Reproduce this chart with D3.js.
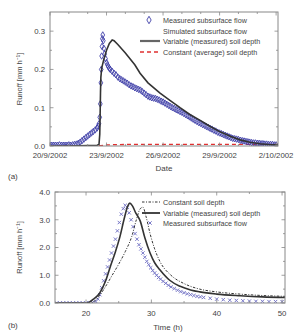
<!DOCTYPE html>
<html><head><meta charset="utf-8">
<script src="https://cdn.jsdelivr.net/npm/d3@7"></script>
<style>
body{margin:0;background:#fff;}
svg{display:block;font-family:"Liberation Sans",Arial,sans-serif;}
</style></head>
<body>
<svg id="c" width="295" height="333"></svg>
<script>
// ---------- Panel (a) data : days since 20/9/2002 ----------
const aTickValues = [0, 3, 6, 9, 12];
const aTickLabels = ["20/9/2002", "23/9/2002", "26/9/2002", "29/9/2002", "2/10/2002"];
const aYTicks = [0.0, 0.1, 0.2, 0.3];

const measDay = [0.0,0.1,0.2,0.3,0.4,0.5,0.6,0.7,0.8,0.9,1.0,1.1,1.2,1.3,1.4,1.5,1.6,1.7,1.8,1.9,2.0,2.1,2.2,2.3,2.4,2.5,2.55,2.6,2.64,2.67,2.70,2.72,2.74,2.76,2.78,2.80,2.83,2.86,2.9,2.95,3.0,3.05,3.1,3.15,3.2,3.3,3.4,3.5,3.6,3.7,3.8,3.9,4.0,4.1,4.2,4.3,4.4,4.5,4.6,4.7,4.8,4.9,5.0,5.1,5.2,5.3,5.4,5.5,5.6,5.7,5.8,5.9,6.0,6.1,6.2,6.3,6.4,6.5,6.6,6.7,6.8,6.9,7.0,7.1,7.2,7.3,7.4,7.5,7.6,7.7,7.8,7.9,8.0,8.1,8.2,8.3,8.4,8.5,8.6,8.7,8.8,8.9,9.0,9.1,9.2,9.3,9.4,9.5,9.6,9.7,9.8,9.9,10.0,10.1,10.2,10.3,10.4,10.5,10.6,10.7,10.8,10.9,11.0,11.1,11.2,11.3,11.4,11.5,11.6,11.7,11.8,11.9,12.0];
const measQ = [.002,.002,.002,.002,.002,.003,.002,.002,.002,.002,.003,.002,.003,.004,.005,.007,.010,.014,.018,.022,.026,.030,.034,.038,.042,.047,.052,.058,.075,.11,.165,.20,.235,.26,.28,.29,.275,.255,.24,.228,.218,.212,.207,.203,.20,.195,.19,.186,.18,.176,.173,.17,.167,.164,.16,.157,.155,.152,.15,.148,.146,.142,.138,.134,.13,.128,.126,.125,.124,.122,.12,.117,.115,.112,.109,.106,.103,.10,.098,.095,.093,.09,.088,.085,.082,.079,.076,.073,.07,.067,.064,.061,.059,.056,.054,.051,.049,.046,.044,.041,.039,.036,.034,.032,.030,.028,.026,.024,.022,.020,.019,.018,.017,.015,.014,.013,.012,.011,.010,.009,.008,.008,.007,.007,.006,.006,.005,.005,.004,.004,.004,.003,.003];

const varDay = [0.0,1.0,2.0,2.5,2.6,2.64,2.66,2.68,2.7,2.75,2.85,3.0,3.15,3.3,3.4,3.6,4.0,4.5,4.78,5.2,5.84,6.4,6.9,7.4,7.97,8.5,9.03,9.6,10.09,10.6,11.15,11.6,12.1];
const varQ   = [0.0,0.0,0.001,0.002,0.004,0.03,0.08,0.14,0.18,0.205,0.225,0.25,0.268,0.277,0.275,0.265,0.243,0.212,0.19,0.165,0.138,0.118,0.10,0.083,0.067,0.051,0.037,0.025,0.016,0.010,0.006,0.004,0.003];

const constDay = [0.0,2.7,3.0,4.0,6.0,9.0,12.1];
const constQ   = [0.001,0.001,0.003,0.004,0.004,0.004,0.004];

const aLegend = ["Measured subsurface flow","Simulated subsurface flow","Variable (measured) soil depth","Constant (average) soil depth"];

// ---------- Panel (b) data : hours ----------
const bXTicks = [20, 30, 40, 50];
const bYTicks = [0, 1, 2, 3, 4];
const bYTickLabels = ["0.0","1.0","2.0","3.0","4.0"];

const bMeasT = [15.5,16,16.5,17,17.5,18,18.5,19,19.5,20,20.5,21,21.5,21.8,22.1,22.4,22.7,23.0,23.3,23.6,23.9,24.2,24.5,24.8,25.1,25.4,25.7,26.0,26.3,26.6,26.9,27.2,27.5,27.8,28.1,28.4,28.7,29.0,29.3,29.6,29.9,30.2,30.5,30.8,31.1,31.4,31.8,32.2,32.6,33,33.5,34,34.5,35,35.5,36,36.5,37,37.5,38,39,40,41,42,43,44,45,46,47,48,49,50];
const bMeasQ = [0,0,0,0,0,0,0,0,0,0,0.01,0.02,0.05,0.15,0.3,0.55,0.8,1.05,1.3,1.55,1.8,2.05,2.3,2.6,2.9,3.2,3.4,3.52,3.45,3.25,3.0,2.75,2.5,2.3,2.1,1.95,1.8,1.65,1.5,1.38,1.27,1.17,1.08,1.0,0.92,0.86,0.78,0.71,0.64,0.58,0.52,0.46,0.41,0.37,0.33,0.3,0.27,0.24,0.22,0.2,0.17,0.14,0.12,0.1,0.09,0.08,0.07,0.06,0.06,0.05,0.05,0.05];

const bVarT = [15.25,20,20.5,21.2,22.1,23,23.7,24.5,25.2,25.8,26.4,26.7,27.1,27.6,28.3,29,29.8,30.5,31.3,32.8,34.4,36,37.4,40,43.6,47,50.45];
const bVarQ = [0,0,0.03,0.15,0.36,0.8,1.3,1.85,2.4,3.0,3.5,3.6,3.5,3.25,2.95,2.35,1.8,1.45,1.2,0.82,0.6,0.47,0.4,0.32,0.26,0.22,0.2];

const bConT = [15.25,20.5,21,22,23,24,25,26,27,27.7,28.3,28.7,29.2,29.8,30.5,31.3,33,35,37.4,40,43.6,47,50.45];
const bConQ = [0,0,0.02,0.25,0.6,1.0,1.4,1.85,2.4,3.0,3.4,3.45,3.1,2.5,1.95,1.5,1.0,0.7,0.5,0.4,0.32,0.27,0.24];

const bLegend = ["Constant soil depth","Variable (measured) soil depth","Measured subsurface flow"];

// ---------- drawing ----------
const svg = d3.select("#c");
const frameCol = "#888", textCol = "#444";

function frame(g, x, y, w, h, xMaj, xMin, yMaj, yMin) {
  g.append("rect").attr("x",0).attr("y",0).attr("width",w).attr("height",h)
    .attr("fill","none").attr("stroke",frameCol).attr("stroke-width",1);
  const t = g.append("g").attr("stroke",frameCol).attr("stroke-width",0.8);
  xMaj.forEach(v=>{ const px=x(v);
    t.append("line").attr("x1",px).attr("x2",px).attr("y1",h).attr("y2",h-3.5);
    t.append("line").attr("x1",px).attr("x2",px).attr("y1",0).attr("y2",3.5);});
  xMin.forEach(v=>{ const px=x(v);
    t.append("line").attr("x1",px).attr("x2",px).attr("y1",h).attr("y2",h-2);
    t.append("line").attr("x1",px).attr("x2",px).attr("y1",0).attr("y2",2);});
  yMaj.forEach(v=>{ const py=y(v);
    t.append("line").attr("x1",0).attr("x2",3.5).attr("y1",py).attr("y2",py);
    t.append("line").attr("x1",w).attr("x2",w-3.5).attr("y1",py).attr("y2",py);});
  yMin.forEach(v=>{ const py=y(v);
    t.append("line").attr("x1",0).attr("x2",2).attr("y1",py).attr("y2",py);
    t.append("line").attr("x1",w).attr("x2",w-2).attr("y1",py).attr("y2",py);});
}

// Panel (a)
{
  const L=50, T=12, W=228, H=134;
  const g = svg.append("g").attr("transform",`translate(${L},${T})`);
  const x = d3.scaleLinear().domain([0,12.1]).range([0,W]);
  const y = d3.scaleLinear().domain([0,0.35]).range([H,0]);
  const xMin = d3.range(0,12.1,1).filter(v=>!aTickValues.includes(v));
  const yMin = [0.05,0.15,0.25];
  g.append("clipPath").attr("id","ca").append("rect").attr("width",W).attr("height",H+2).attr("y",-2);
  const pg = g.append("g").attr("clip-path","url(#ca)");

  pg.append("path").datum(constDay.map((d,i)=>[d,constQ[i]]))
    .attr("d",d3.line().x(d=>x(d[0])).y(d=>y(d[1])))
    .attr("fill","none").attr("stroke","#e03030").attr("stroke-width",1.3).attr("stroke-dasharray","4,3");

  const diamond = d3.symbol().type(d3.symbolDiamond).size(12);
  pg.append("g").selectAll("path").data(measDay.map((d,i)=>[d,measQ[i]])).join("path")
    .attr("transform",d=>`translate(${x(d[0])},${y(d[1])})`).attr("d",diamond)
    .attr("fill","none").attr("stroke","#4040a8").attr("stroke-width",0.9);

  pg.append("path").datum(varDay.map((d,i)=>[d,varQ[i]]))
    .attr("d",d3.line().x(d=>x(d[0])).y(d=>y(d[1])))
    .attr("fill","none").attr("stroke","#333").attr("stroke-width",1.6);

  frame(g,x,y,W,H,aTickValues,xMin,aYTicks,yMin);

  g.append("g").selectAll("text").data(aTickValues).join("text")
    .attr("x",d=>x(d)).attr("y",H+12).attr("text-anchor","middle")
    .attr("font-size",7.8).attr("fill",textCol).text((d,i)=>aTickLabels[i]);
  g.append("g").selectAll("text").data(aYTicks).join("text")
    .attr("x",-5).attr("y",d=>y(d)+2.8).attr("text-anchor","end")
    .attr("font-size",7.8).attr("fill",textCol).text(d=>d.toFixed(1));
  g.append("text").attr("x",W/2).attr("y",H+25).attr("text-anchor","middle")
    .attr("font-size",8).attr("fill",textCol).text("Date");
  g.append("text").attr("transform",`translate(${-28},${H/2}) rotate(-90)`)
    .attr("text-anchor","middle").attr("font-size",7.5).attr("fill",textCol)
    .text("Runoff [mm h\u207B\u00B9]");

  const lg = svg.append("g");
  const rows=[20,31,41,52];
  lg.append("path").attr("transform",`translate(149,${rows[0]})`).attr("d",d3.symbol().type(d3.symbolDiamond).size(16))
    .attr("fill","none").attr("stroke","#4040a8").attr("stroke-width",0.9);
  lg.append("line").attr("x1",140).attr("x2",160).attr("y1",rows[2]).attr("y2",rows[2])
    .attr("stroke","#666").attr("stroke-width",2.2);
  lg.append("line").attr("x1",140).attr("x2",160).attr("y1",rows[3]).attr("y2",rows[3])
    .attr("stroke","#e03030").attr("stroke-width",1.3).attr("stroke-dasharray","4,3");
  lg.selectAll("text").data(aLegend).join("text").attr("x",163).attr("y",(d,i)=>rows[i]+2.5)
    .attr("font-size",7.2).attr("fill",textCol).text(d=>d);

  svg.append("text").attr("x",8).attr("y",179).attr("font-size",8).attr("fill",textCol).text("(a)");
}

// Panel (b)
{
  const L=55, T=192, W=230, H=111;
  const g = svg.append("g").attr("transform",`translate(${L},${T})`);
  const x = d3.scaleLinear().domain([15.25,50.45]).range([0,W]);
  const y = d3.scaleLinear().domain([0,4]).range([H,0]);
  g.append("clipPath").attr("id","cb").append("rect").attr("width",W).attr("height",H+2).attr("y",-2);
  const pg = g.append("g").attr("clip-path","url(#cb)");

  const cross = d3.symbol().type(d3.symbolX).size(9);
  pg.append("g").selectAll("path").data(bMeasT.map((d,i)=>[d,bMeasQ[i]])).join("path")
    .attr("transform",d=>`translate(${x(d[0])},${y(d[1])})`).attr("d",cross)
    .attr("fill","none").attr("stroke","#7878c8").attr("stroke-width",1);

  pg.append("path").datum(bConT.map((d,i)=>[d,bConQ[i]]))
    .attr("d",d3.line().curve(d3.curveMonotoneX).x(d=>x(d[0])).y(d=>y(d[1])))
    .attr("fill","none").attr("stroke","#333").attr("stroke-width",1).attr("stroke-dasharray","2.5,1.5,1,1.5");

  pg.append("path").datum(bVarT.map((d,i)=>[d,bVarQ[i]]))
    .attr("d",d3.line().curve(d3.curveMonotoneX).x(d=>x(d[0])).y(d=>y(d[1])))
    .attr("fill","none").attr("stroke","#333").attr("stroke-width",1.6);

  frame(g,x,y,W,H,bXTicks,[25,35,45],bYTicks,[0.5,1.5,2.5,3.5]);

  g.append("g").selectAll("text").data(bXTicks).join("text")
    .attr("x",d=>x(d)).attr("y",H+13).attr("text-anchor","middle")
    .attr("font-size",7.8).attr("fill",textCol).text(d=>d);
  g.append("g").selectAll("text").data(bYTicks).join("text")
    .attr("x",-5).attr("y",d=>y(d)+2.8).attr("text-anchor","end")
    .attr("font-size",7.8).attr("fill",textCol).text((d,i)=>bYTickLabels[i]);
  g.append("text").attr("x",W/2-2).attr("y",H+27).attr("text-anchor","middle")
    .attr("font-size",8).attr("fill",textCol).text("Time (h)");
  g.append("text").attr("transform",`translate(${-33},${H/2}) rotate(-90)`)
    .attr("text-anchor","middle").attr("font-size",7.5).attr("fill",textCol)
    .text("Runoff [mm h\u207B\u00B9]");

  const lg = svg.append("g");
  const rows=[202,213,223];
  lg.append("line").attr("x1",142).attr("x2",160).attr("y1",rows[0]).attr("y2",rows[0])
    .attr("stroke","#333").attr("stroke-width",1).attr("stroke-dasharray","2.5,1.5,1,1.5");
  lg.append("line").attr("x1",142).attr("x2",160).attr("y1",rows[1]).attr("y2",rows[1])
    .attr("stroke","#333").attr("stroke-width",1.8);
  lg.append("path").attr("transform",`translate(150,${rows[2]})`).attr("d",cross)
    .attr("fill","none").attr("stroke","#7878c8").attr("stroke-width",1);
  lg.selectAll("text").data(bLegend).join("text").attr("x",163).attr("y",(d,i)=>rows[i]+2.5)
    .attr("font-size",7.2).attr("fill",textCol).text(d=>d);

  svg.append("text").attr("x",8).attr("y",328).attr("font-size",8).attr("fill",textCol).text("(b)");
}
</script>
</body></html>
